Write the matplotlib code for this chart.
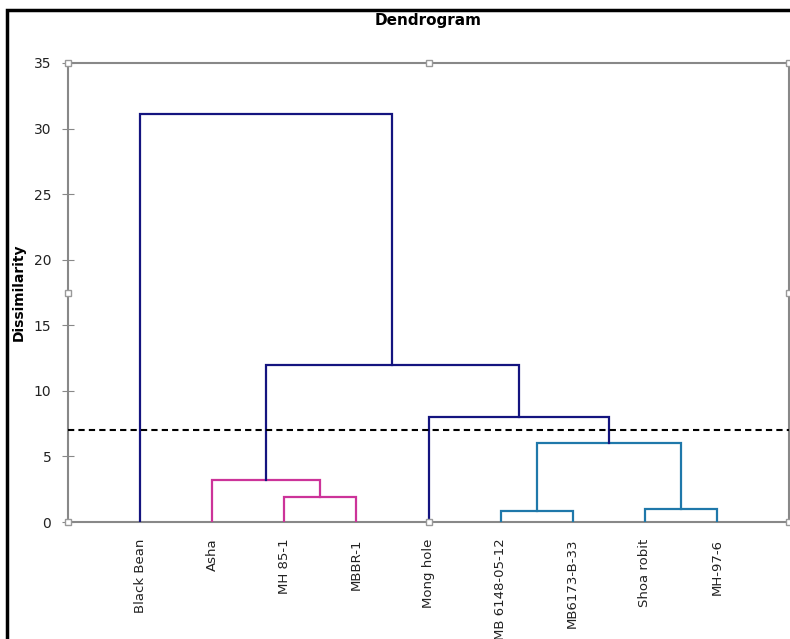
import matplotlib.pyplot as plt
from matplotlib.patches import Rectangle

# leaves in display order
leaves = ['Black Bean', 'Asha', 'MH 85-1', 'MBBR-1', 'Mong hole',
          'MB 6148-05-12', 'MB6173-B-33', 'Shoa robit', 'MH-97-6']
# merges: (left child, right child, dissimilarity); new node ids start at len(leaves)
merges = [
    (2, 3, 1.9),
    (1, 9, 3.2),
    (5, 6, 0.85),
    (7, 8, 1.0),
    (11, 12, 6.0),
    (4, 13, 8.0),
    (10, 14, 12.0),
    (0, 15, 31.1),
]
merge_colors = ['#CC3399', '#CC3399', '#1F78AA', '#1F78AA', '#1F78AA',
                '#14147F', '#14147F', '#14147F']
cut_level = 7.0
yticks = [0, 5, 10, 15, 20, 25, 30, 35]

fig = plt.figure(figsize=(7.9, 6.39), dpi=100)
ax = fig.add_axes([68 / 790, 117 / 639, 721 / 790, 459 / 639])

# node positions
xs = {i: i + 1 for i in range(len(leaves))}
hs = {i: 0.0 for i in range(len(leaves))}
for k, (a, b, h) in enumerate(merges):
    c = merge_colors[k]
    ax.plot([xs[a], xs[a], xs[b], xs[b]], [hs[a], h, h, hs[b]],
            color=c, lw=1.6, solid_joinstyle='miter', zorder=3)
    node = len(leaves) + k
    xs[node] = (xs[a] + xs[b]) / 2
    hs[node] = h

ax.axhline(cut_level, color='black', lw=1.5, ls=(0, (3, 2)), zorder=4)

ax.set_xlim(0, len(leaves) + 1)
ax.set_ylim(0, 35)
ax.set_yticks(yticks)
ax.set_xticks(range(1, len(leaves) + 1))
ax.set_xticklabels(leaves, rotation=90, fontsize=9.5, color='#222222')
ax.tick_params(axis='x', length=0, pad=12)
ax.tick_params(axis='y', direction='inout', length=8, color='#888888',
               labelsize=10, labelcolor='#222222', pad=8)
for s in ax.spines.values():
    s.set_color('#888888')
    s.set_linewidth(1.5)
ax.set_ylabel('Dissimilarity', fontsize=10, fontweight='bold')
ax.yaxis.set_label_coords(-0.058, 0.5)

# selection handles of the plot area
hx = [0, 0.5, 1, 0, 1, 0, 0.5, 1]
hy = [1, 1, 1, 0.5, 0.5, 0, 0, 0]
ax.plot(hx, hy, 's', ms=4.5, mfc='white', mec='#999999', mew=1,
        transform=ax.transAxes, clip_on=False, zorder=6)

fig.text(428 / 790, 1 - 21 / 639, 'Dendrogram', ha='center', va='center',
         fontsize=11, fontweight='bold')

# outer chart frame (cropped at right and bottom)
fig.patches.append(Rectangle((7 / 790, -0.1), 1.2, 1 - 10 / 639 + 0.1,
                             transform=fig.transFigure, fill=False,
                             ec='black', lw=2.5))

fig.savefig('out.png', dpi=100)
